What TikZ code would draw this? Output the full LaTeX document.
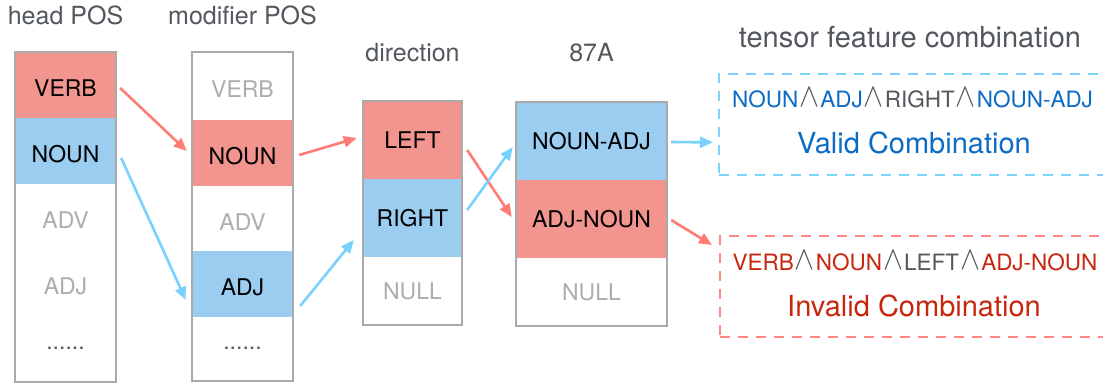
\documentclass[tikz,border=0pt]{standalone}
\usepackage{fontspec}
\setmainfont{TeX Gyre Heros}
\usetikzlibrary{arrows.meta,calc}
\usepackage{graphicx}
\definecolor{redfill}{HTML}{F3958F}
\definecolor{bluefill}{HTML}{9BCDF1}
\definecolor{redarrow}{HTML}{FF7C74}
\definecolor{bluearrow}{HTML}{78D2FD}
\definecolor{framegray}{HTML}{AAAAAA}
\definecolor{offtext}{HTML}{ADADAD}
\definecolor{titlegray}{HTML}{53585E}
\definecolor{bluetext}{HTML}{0B6BC6}
\definecolor{redtext}{HTML}{C8270E}
\definecolor{bluedash}{HTML}{7DD3FB}
\definecolor{reddash}{HTML}{FF8A84}
\newcommand{\wdg}{\kern1pt\textcolor{titlegray}{\raisebox{0.5pt}{\scalebox{1.45}[1.6]{$\wedge$}}}\kern1pt}
\tikzset{
  cell/.style={inner sep=0pt, font=\fontsize{23}{27}\selectfont, text height=16.6pt, text depth=0pt},
  lowcell/.style={cell, text height=23.6pt},
  dotcell/.style={cell, text height=0pt, text=titlegray},
  offcell/.style={text=offtext},
  colframe/.style={draw=framegray, line width=1.8pt, inner sep=0pt},
  coltitle/.style={font=\fontsize{25}{30}\selectfont, text=titlegray, inner sep=0pt, anchor=base},
  redarr/.style={draw=redarrow, line width=2.6pt, -{Triangle[length=13pt,width=11pt]}},
  bluearr/.style={draw=bluearrow, line width=2.6pt, -{Triangle[length=13pt,width=11pt]}},
  combobox/.style={line width=1.8pt, dash pattern=on 10pt off 8pt, anchor=north west, inner sep=0pt, minimum width=400pt, minimum height=101pt},
  combtext/.style={font=\fontsize{22.5}{27}\selectfont, inner sep=0pt, anchor=base},
  combtitle/.style={font=\fontsize{29}{34}\selectfont, inner sep=0pt, anchor=base}
}
\begin{document}
\begin{tikzpicture}[x=1pt,y=-1pt]
\useasboundingbox (0,0) rectangle (1103,383);
\clip (0,0) rectangle (1103,383);
\fill[white] (0,0) rectangle (1103,383);

% titles
\node[coltitle] (th) at (65.5,24) {head POS};
\node[coltitle] (tm) at (242.5,24) {modifier POS};
\node[coltitle] (td) at (412.5,61) {direction};
\node[coltitle] (ta) at (591.5,61) {87A};
\node[coltitle, font=\fontsize{29}{34}\selectfont] (tt) at (910,47) {tensor feature combination};

% head POS column
\node[lowcell, fill=redfill, minimum width=101pt, minimum height=66pt] (h1) at (65.5,85) {VERB};
\node[lowcell, fill=bluefill, minimum width=101pt, minimum height=66pt] (h2) at (65.5,151) {NOUN};
\node[lowcell, offcell, minimum width=101pt, minimum height=66pt] (h3) at (65.5,217) {ADV};
\node[lowcell, offcell, minimum width=101pt, minimum height=66pt] (h4) at (65.5,283) {ADJ};
\node[dotcell, minimum width=101pt, minimum height=66pt] (h5) at (65.5,349) {......};
\node[colframe, minimum width=101pt, minimum height=330pt] (hf) at (65.5,217) {};

% modifier POS column
\node[lowcell, offcell, minimum width=101pt, minimum height=68pt] (m1) at (242.5,86) {VERB};
\node[lowcell, fill=redfill, minimum width=101pt, minimum height=66pt] (m2) at (242.5,153) {NOUN};
\node[lowcell, offcell, minimum width=101pt, minimum height=65pt] (m3) at (242.5,218.5) {ADV};
\node[lowcell, fill=bluefill, minimum width=101pt, minimum height=66pt] (m4) at (242.5,284) {ADJ};
\node[dotcell, minimum width=101pt, minimum height=64pt] (m5) at (242.5,349) {......};
\node[colframe, minimum width=101pt, minimum height=329pt] (mf) at (242.5,216.5) {};

% direction column
\node[cell, fill=redfill, minimum width=99pt, minimum height=78pt] (d1) at (412.5,140) {LEFT};
\node[cell, fill=bluefill, minimum width=99pt, minimum height=78pt] (d2) at (412.5,218) {RIGHT};
\node[cell, offcell, minimum width=99pt, minimum height=68pt] (d3) at (412.5,291) {NULL};
\node[colframe, minimum width=99pt, minimum height=224pt] (df) at (412.5,213) {};

% 87A column
\node[cell, fill=bluefill, minimum width=151pt, minimum height=78pt] (a1) at (591.5,141) {NOUN-ADJ};
\node[cell, fill=redfill, minimum width=151pt, minimum height=78pt] (a2) at (591.5,219) {ADJ-NOUN};
\node[cell, offcell, minimum width=151pt, minimum height=68pt] (a3) at (591.5,292) {NULL};
\node[colframe, minimum width=151pt, minimum height=224pt] (af) at (591.5,214) {};

% combination boxes
\node[combobox, draw=bluedash] (vbox) at (718,73) {};
\node[combobox, draw=reddash] (ibox) at (719,235) {};
\node[combtext] (vline) at (912.5,107) {\textcolor{bluetext}{NOUN}\wdg\textcolor{bluetext}{ADJ}\wdg\textcolor{titlegray}{RIGHT}\wdg\textcolor{bluetext}{NOUN-ADJ}};
\node[combtitle, text=bluetext] (vtitle) at (914,153) {Valid Combination};
\node[combtext] (iline) at (915,270) {\textcolor{redtext}{VERB}\wdg\textcolor{redtext}{NOUN}\wdg\textcolor{titlegray}{LEFT}\wdg\textcolor{redtext}{ADJ-NOUN}};
\node[combtitle, text=redtext] (ititle) at (914,316) {Invalid Combination};

% arrows
\draw[redarr] ($(h1.east)+(4,3)$) -- ($(m2.west)+(-5,-2)$);
\draw[bluearr] ($(h2.east)+(5,7)$) -- ($(m4.west)+(-6,16)$);
\draw[redarr] ($(m2.east)+(6,2)$) -- ($(d1.west)+(-6,-2)$);
\draw[bluearr] ($(m4.east)+(7,22)$) -- ($(d2.west)+(-9,22)$);
\draw[redarr] ($(d1.east)+(5,10)$) -- ($(a2.west)+(-4,-2)$);
\draw[bluearr] ($(d2.east)+(5,-8)$) -- ($(a1.west)+(-3,6)$);
\draw[bluearr] ($(a1.east)+(4,1)$) -- ($(vbox.west)+(-5,18)$);
\draw[redarr] ($(a2.east)+(4,1)$) -- ($(ibox.north west)+(-7,10)$);
\end{tikzpicture}
\end{document}
